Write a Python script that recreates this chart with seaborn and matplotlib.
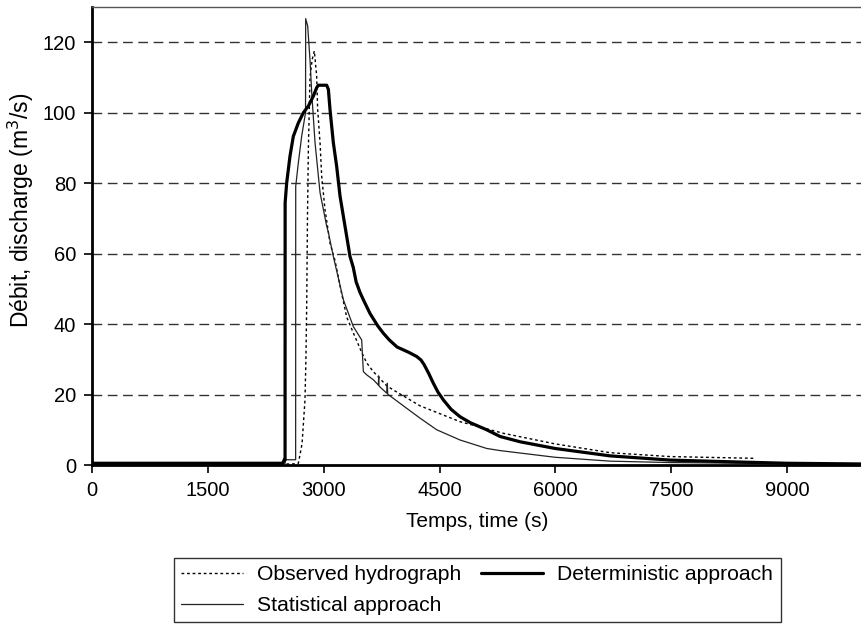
import pandas as pd
import matplotlib
matplotlib.use("Agg")
import matplotlib.pyplot as plt
import seaborn as sns

# time (s) / discharge (m3/s)
obs_t = [0, 2600, 2672, 2720, 2758, 2770, 2780, 2790, 2802, 2823, 2850, 2879, 2909,
         2922, 2953, 2974, 3017, 3082, 3147, 3220, 3298, 3384, 3492, 3557, 3643,
         3816, 3902, 4248, 4766, 5327, 5996, 6708, 7485, 8586]
obs_q = [0.3, 0.3, 0.5, 6, 18.5, 30, 45, 70, 90, 110, 115, 117.5, 110.4,
         101, 91.5, 82, 72.5, 63, 58, 50, 42, 37.5, 32, 29, 26.5,
         22.5, 21.3, 16.8, 12.3, 9.0, 6.0, 3.5, 2.4, 1.9]

det_t = [0, 2470, 2490, 2500, 2501, 2521, 2564, 2607, 2672, 2737, 2802, 2866,
         2909, 2931, 3039, 3061, 3082, 3125, 3168, 3212, 3276, 3341, 3384,
         3420, 3470, 3514, 3600, 3700, 3773, 3850, 3950, 4100, 4205, 4260,
         4300, 4360, 4420, 4480, 4549, 4650, 4766, 4900, 5111, 5284, 5543,
         5996, 6708, 7485, 8300, 9000, 9970]
det_q = [0.5, 0.5, 1.5, 1.5, 74.4, 80.1, 87.7, 93.3, 97.1, 100, 101.9, 104.7,
         107.1, 107.8, 107.8, 106.6, 100.9, 91.5, 84.8, 76.3, 67.8, 59.2, 56,
         52, 49, 46.9, 43, 39.5, 37.4, 35.5, 33.5, 32, 30.8, 29.8,
         28.5, 26, 23.2, 20.7, 18.5, 15.8, 13.7, 12, 10, 8.1, 6.6,
         4.7, 2.6, 1.4, 0.9, 0.5, 0.3]

stat_t = [0, 2500, 2510, 2637, 2638, 2672, 2715, 2765, 2767, 2793, 2823, 2845,
          2888, 2953, 3039, 3061, 3125, 3255, 3384, 3492, 3510, 3514, 3557,
          3643, 3708, 3712, 3716, 3722, 3816, 3824, 3829, 3836, 4075, 4248,
          4464, 4766, 5111, 5284, 5996, 6708, 7485, 9000, 9970]
stat_q = [0.5, 0.5, 1.5, 1.5, 79.1, 85.8, 93.3, 100, 126.7, 124.6, 115, 105.7,
          91.5, 77.3, 67.8, 66, 59.2, 46.9, 39.3, 35.5, 28, 26.5, 25.6,
          24.2, 22.7, 25.3, 22.5, 22.3, 20.4, 23.2, 20.2, 20, 16.1, 13.3,
          10, 7.1, 4.7, 4.1, 2.2, 1.1, 0.7, 0.4, 0.3]

obs = pd.DataFrame({"t": obs_t, "q": obs_q})
det = pd.DataFrame({"t": det_t, "q": det_q})
stat = pd.DataFrame({"t": stat_t, "q": stat_q})

sns.set_style("white")
plt.rcParams["font.family"] = ["Liberation Sans", "DejaVu Sans"]
plt.rcParams["text.color"] = "black"
plt.rcParams["axes.labelcolor"] = "black"

fig = plt.figure(figsize=(8.62, 6.32), dpi=100)
ax = fig.add_axes([0.1067, 0.2642, 0.8933, 0.7247])

sns.lineplot(data=obs, x="t", y="q", ax=ax, sort=False, estimator=None,
             color="black", lw=1.0, linestyle=(0, (2, 2)),
             label="Observed hydrograph")
sns.lineplot(data=stat, x="t", y="q", ax=ax, sort=False, estimator=None,
             color="#222222", lw=0.9, label="Statistical approach")
sns.lineplot(data=det, x="t", y="q", ax=ax, sort=False, estimator=None,
             color="black", lw=2.3, label="Deterministic approach")

ax.set_xlim(0, 9970)
ax.set_ylim(0, 130)
ax.set_xticks([0, 1500, 3000, 4500, 6000, 7500, 9000])
ax.set_yticks([0, 20, 40, 60, 80, 100, 120])
for y in [20, 40, 60, 80, 100, 120]:
    ax.axhline(y, color="#333333", lw=1.0, linestyle=(0, (7, 4)), zorder=0)

ax.tick_params(direction="out", length=5.5, width=1.2, pad=6, labelsize=14.5,
               colors="black", left=True, bottom=True)
ax.spines["left"].set_linewidth(2)
ax.spines["bottom"].set_linewidth(2)
ax.spines["left"].set_color("black")
ax.spines["bottom"].set_color("black")
ax.spines["top"].set_color("#555555")
ax.spines["top"].set_linewidth(1)
ax.spines["right"].set_visible(False)

ax.set_xlabel("Temps, time (s)", fontsize=15, labelpad=9)
ax.set_ylabel("Débit, discharge (m$^3$/s)", fontsize=16.5)
ax.yaxis.set_label_coords(-0.073, 0.557)

ax.get_legend().remove()
h, l = ax.get_legend_handles_labels()
leg = fig.legend(h, l, ncol=2, loc="upper left", bbox_to_anchor=(0.2019, 0.1171),
                 bbox_transform=fig.transFigure, fontsize=15.2, frameon=True,
                 fancybox=False, edgecolor="black", handlelength=2.9,
                 handletextpad=0.7, columnspacing=0.93, labelspacing=0.55,
                 borderpad=0.35, borderaxespad=0)
leg.get_frame().set_linewidth(1.0)

fig.savefig("out.png", dpi=100)
